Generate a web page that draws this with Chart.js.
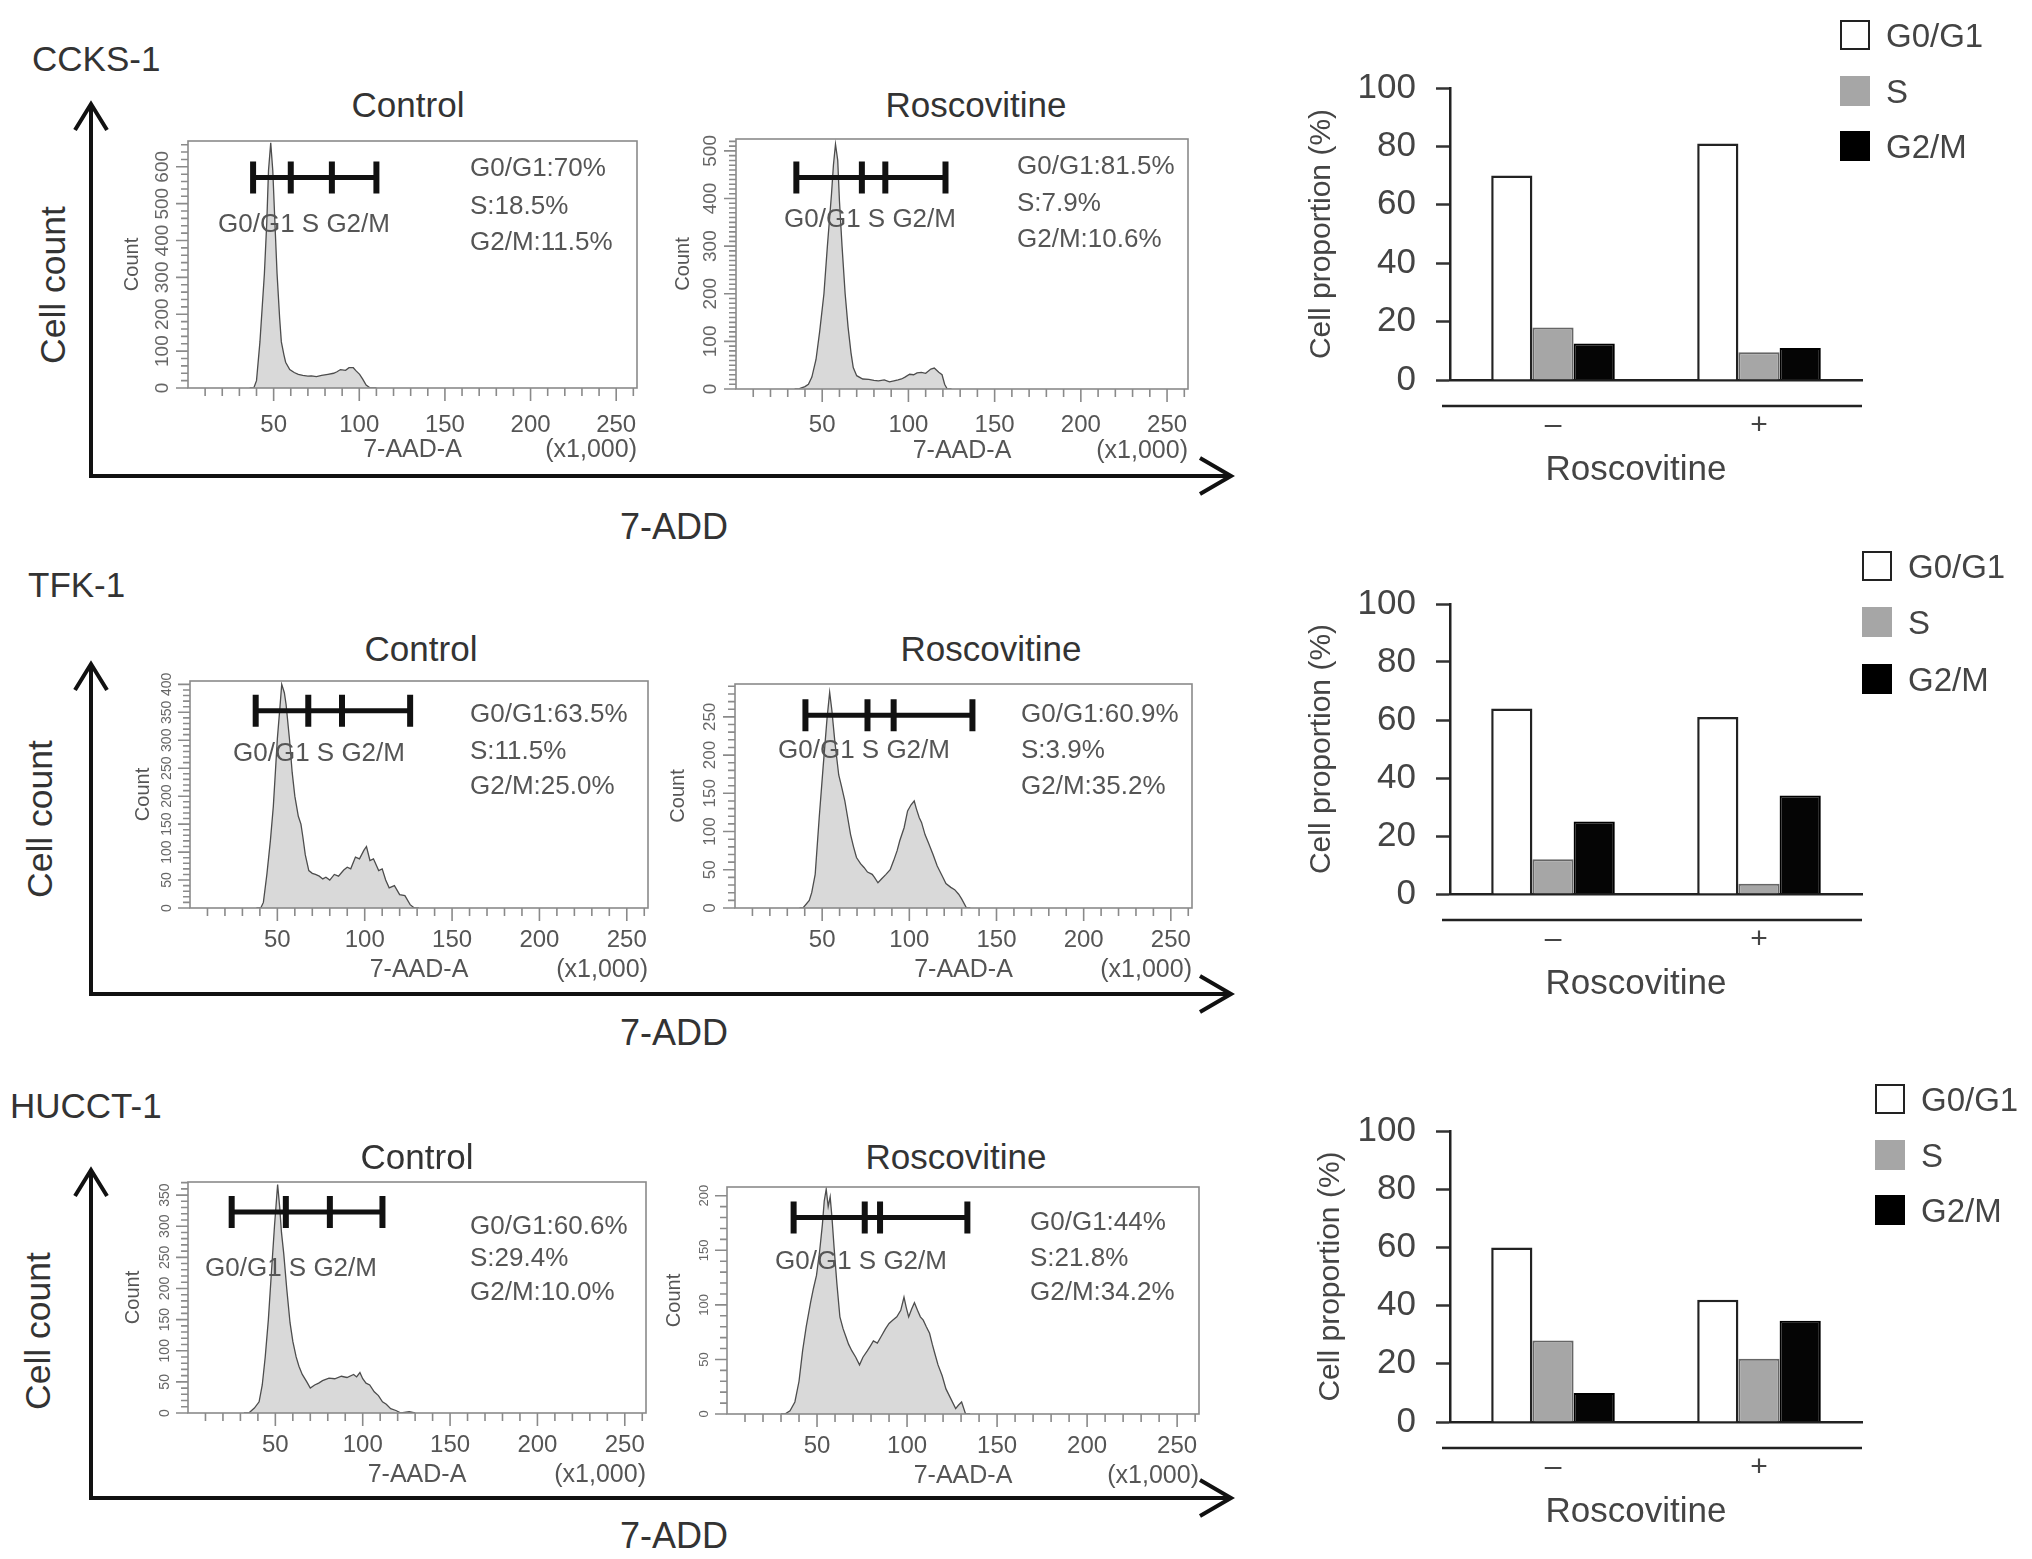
<!DOCTYPE html>
<html><head><meta charset="utf-8">
<script src="https://cdn.jsdelivr.net/npm/chart.js@4.4.0/dist/chart.umd.min.js"></script>
<style>
html,body{margin:0;padding:0;background:#fff;}
body{width:2032px;height:1559px;position:relative;overflow:hidden;font-family:"Liberation Sans",Arial,sans-serif;}
.t{position:absolute;white-space:nowrap;line-height:1;z-index:5;}
.c{transform:translate(-50%,-50%);}
.l{transform:translate(0,-50%);}
.r{transform:translate(-50%,-50%) rotate(-90deg);}
canvas{position:absolute;z-index:2;}
svg{position:absolute;left:0;top:0;z-index:1;}
.lg{position:absolute;width:30px;height:30px;box-sizing:border-box;transform:translate(0,-50%);z-index:5;}
</style></head><body>
<svg id="arrows" width="2032" height="1559"></svg>
<div id="texts"></div>
<script>
// ---------------- DATA ----------------
const cellLines = ['CCKS-1', 'TFK-1', 'HUCCT-1'];
const conditions = ['Control', 'Roscovitine'];
const phases = ['G0/G1', 'S', 'G2/M'];
const treatment = ['\u2013', '+'];

// bar chart values (cell proportion %)
const ccksG0G1 = [70, 81];
const ccksS = [18, 9.5];
const ccksG2M = [12.5, 11];
const tfkG0G1 = [64, 61];
const tfkS = [12, 3.5];
const tfkG2M = [25, 34];
const hucctG0G1 = [60, 42];
const hucctS = [28, 21.7];
const hucctG2M = [10, 34.8];

// stats printed in histograms
const ccksCtrlStats = ['G0/G1:70%', 'S:18.5%', 'G2/M:11.5%'];
const ccksRoscStats = ['G0/G1:81.5%', 'S:7.9%', 'G2/M:10.6%'];
const tfkCtrlStats = ['G0/G1:63.5%', 'S:11.5%', 'G2/M:25.0%'];
const tfkRoscStats = ['G0/G1:60.9%', 'S:3.9%', 'G2/M:35.2%'];
const hucctCtrlStats = ['G0/G1:60.6%', 'S:29.4%', 'G2/M:10.0%'];
const hucctRoscStats = ['G0/G1:44%', 'S:21.8%', 'G2/M:34.2%'];

// DNA content (7-AAD-A, x1,000) and cell counts
const ccksCtrlDNA = [36, 38.4, 40, 42, 44.6, 46, 47, 48.3, 49.5, 51, 52, 53.5, 54.5, 56, 57, 59.4, 62, 64.4, 67, 70, 72, 75, 78, 81.7, 85, 87, 89, 92, 94, 96.5, 98, 100.2, 102, 104, 106.4, 110];
const ccksCtrlCount = [0, 0, 20, 125, 310, 450, 590, 665, 590, 420, 310, 190, 125, 90, 70, 50, 42, 37, 34, 32, 33, 31, 34, 37, 40, 44, 50, 48, 55, 55, 47, 37, 24, 8, 0, 0];
const ccksRoscDNA = [34, 36, 40, 42, 44, 46.4, 48.5, 51, 53, 55.4, 56.5, 57.7, 59, 60, 61.5, 63.3, 65, 66.7, 68, 70, 73.5, 77, 80, 82.6, 86, 89, 91.6, 94, 96, 98, 100.7, 103, 105, 107.5, 110, 113, 115, 117.6, 119.5, 121, 122.5, 125];
const ccksRoscCount = [0, 0, 5, 10, 25, 62, 120, 200, 300, 410, 470, 514, 480, 395, 300, 200, 130, 76, 45, 28, 21, 20, 18, 17, 19, 15, 17, 19, 21, 25, 31, 30, 34, 35, 33, 42, 44, 35, 30, 10, 0, 0];
const tfkCtrlDNA = [38, 40.5, 42, 44, 46, 47.7, 49, 50, 51.5, 52.5, 54, 55, 57, 58.5, 60, 62, 63.5, 64.6, 66, 68, 70, 71.8, 74, 76, 77.8, 80, 82.6, 85, 88, 90, 92, 94.7, 97, 99.5, 101, 103, 105, 108, 110, 112, 114, 117, 120, 123, 126, 128.4, 131];
const tfkCtrlCount = [0, 0, 10, 60, 120, 182, 250, 303, 360, 400, 385, 364, 300, 242, 200, 164, 150, 127, 95, 67, 62, 60, 57, 52, 55, 50, 60, 57, 68, 73, 70, 91, 88, 103, 110, 85, 88, 67, 70, 50, 36, 40, 24, 22, 6, 0, 0];
const tfkRoscDNA = [37, 39, 42.6, 44, 46, 48.3, 50.5, 52.8, 54.3, 55.5, 57.3, 59.5, 61, 63, 64.5, 66.3, 68, 69.7, 72, 74, 76, 78.7, 80, 82, 84, 86.6, 89, 91, 93, 94.5, 97, 99, 101, 102.8, 104, 105.7, 107, 109, 111, 113.6, 116, 119.3, 121, 123.8, 126, 128.3, 130, 132.8, 135];
const tfkRoscCount = [0, 0, 10, 20, 44, 118, 183, 248, 282, 260, 217, 174, 160, 140, 120, 96, 80, 66, 58, 53, 47, 44, 40, 33, 38, 44, 50, 62, 75, 88, 105, 127, 135, 140, 130, 118, 112, 96, 85, 70, 55, 40, 32, 27, 24, 18, 12, 0, 0];
const hucctCtrlDNA = [32, 34.8, 38, 40.7, 42.5, 44.2, 46, 47.8, 49.5, 51.3, 52.5, 53.5, 54.8, 56.5, 58.4, 60, 61.9, 63.5, 65.4, 68, 70, 72.5, 74.8, 77, 80.7, 84, 87.8, 91, 94.8, 96.5, 98.4, 100, 101.9, 104, 106.6, 109, 111.3, 113.5, 116, 119, 121.9, 126.6, 130];
const hucctCtrlCount = [0, 0, 8, 18, 45, 90, 150, 228, 300, 367, 330, 290, 256, 200, 145, 115, 90, 75, 62, 50, 40, 45, 48, 52, 56, 55, 59, 57, 62, 58, 65, 55, 48, 45, 34, 28, 18, 14, 7, 4, 0, 2, 0];
const hucctRoscDNA = [30, 32.2, 35, 37.7, 40, 42, 44, 46.4, 48, 49.7, 51.5, 53, 54, 55.1, 56.2, 57.3, 58.3, 59.5, 61, 62.7, 64.5, 66, 67.5, 69.3, 71.5, 73.6, 75.5, 78, 79.5, 81.3, 83.5, 85.6, 88, 90, 92, 94.3, 96.5, 98.3, 99.5, 100.9, 102.5, 104.1, 105.8, 107.4, 109, 110.7, 112.5, 114, 115.5, 117.2, 119.5, 121.6, 124, 127, 128.5, 130.3, 132.5, 135];
const hucctRoscCount = [0, 0, 3, 11, 30, 58, 80, 102, 115, 127, 150, 174, 195, 206, 190, 199, 180, 152, 120, 89, 78, 71, 64, 58, 52, 45, 52, 58, 62, 67, 65, 71, 78, 83, 86, 89, 95, 107, 98, 89, 96, 102, 95, 89, 86, 80, 74, 64, 55, 45, 35, 23, 15, 5, 8, 11, 0, 0];

// gate boundaries (x1,000) and gate height (count)
const ccksCtrlGate = [38, 60, 84, 110];
const ccksRoscGate = [35, 73, 86.6, 121.5];
const tfkCtrlGate = [37.6, 67.7, 87, 126];
const tfkRoscGate = [40.4, 76, 91, 136.2];
const hucctCtrlGate = [25, 56, 81.2, 111.3];
const hucctRoscGate = [37, 76.5, 85, 133.5];
const gateLevels = [571, 444, 353, 252, 323, 180];
const countMax = [670, 525, 406, 293, 371, 208];
const countMajor = [100, 100, 50, 50, 50, 50];
const countMinor = [20, 10, 10, 10, 10, 10];
const dnaMax = 262.144;

// ---------------- LAYOUT ----------------
Chart.defaults.font.family = '"Liberation Sans", Arial, sans-serif';
Chart.defaults.animation = false;
const TX = document.getElementById('texts');
function txt(s, x, y, size, cls, color) {
  const d = document.createElement('div');
  d.className = 't ' + cls;
  d.textContent = s;
  d.style.left = x + 'px'; d.style.top = y + 'px';
  d.style.fontSize = size + 'px'; d.style.color = color || '#333';
  TX.appendChild(d);
}

// big axes arrows
const rowsGeo = [
  {tip: 104, base: 476, label: [32, 58], cc: [54, 285], adY: 527},
  {tip: 664, base: 994, label: [28, 584], cc: [41, 819], adY: 1033},
  {tip: 1170, base: 1498, label: [10, 1105], cc: [39, 1331], adY: 1536}
];
let svg = '';
rowsGeo.forEach((g, i) => {
  svg += `<path d="M91 ${g.base} L91 ${g.tip} M75 ${g.tip + 26} L91 ${g.tip} L107 ${g.tip + 26}" stroke="#111" stroke-width="4" fill="none"/>`;
  svg += `<path d="M89 ${g.base} L1231 ${g.base} M1200 ${g.base - 18} L1231 ${g.base} L1200 ${g.base + 18}" stroke="#111" stroke-width="4" fill="none"/>`;
  txt(cellLines[i], g.label[0], g.label[1], 35, 'l', '#333');
  txt('Cell count', g.cc[0], g.cc[1], 35.5, 'r', '#333');
  txt('7-ADD', 674, g.adY, 36, 'c', '#333');
});
document.getElementById('arrows').innerHTML = svg;

// histogram panels
const histDecor = {
  id: 'histDecor',
  afterDatasetsDraw(chart, args, o) {
    const {ctx, chartArea: a, scales: {x, y}} = chart;
    ctx.save();
    ctx.strokeStyle = '#8a8a8a'; ctx.lineWidth = 1.6;
    ctx.strokeRect(a.left, a.top, a.right - a.left, a.bottom - a.top);
    ctx.beginPath();
    for (let v = 10; v <= 260; v += 10) {
      const px = x.getPixelForValue(v), L = v % 50 === 0 ? 13 : 8;
      ctx.moveTo(px, a.bottom); ctx.lineTo(px, a.bottom + L);
    }
    for (let v = 0; v <= o.ymax; v += o.minor) {
      const py = y.getPixelForValue(v), L = v % o.major === 0 ? 12 : 7;
      ctx.moveTo(a.left, py); ctx.lineTo(a.left - L, py);
    }
    ctx.stroke();
    ctx.fillStyle = '#666'; ctx.font = o.yFont + 'px "Liberation Sans", Arial';
    ctx.textAlign = 'center'; ctx.textBaseline = 'middle';
    for (let v = 0; v <= o.ymax; v += o.major) {
      const py = y.getPixelForValue(v);
      ctx.save(); ctx.translate(a.left - 15 - o.yFont * 0.55, py); ctx.rotate(-Math.PI / 2);
      ctx.fillText(String(v), 0, 0); ctx.restore();
    }
    // gate marker
    const g = o.gates, gy = y.getPixelForValue(o.gateY);
    ctx.strokeStyle = '#111'; ctx.lineWidth = 5;
    ctx.beginPath();
    ctx.moveTo(x.getPixelForValue(g[0]), gy); ctx.lineTo(x.getPixelForValue(g[g.length - 1]), gy);
    ctx.stroke();
    ctx.lineWidth = 6;
    ctx.beginPath();
    g.forEach(v => { const px = x.getPixelForValue(v); ctx.moveTo(px, gy - 16); ctx.lineTo(px, gy + 16); });
    ctx.stroke();
    // unit
    ctx.fillStyle = '#555'; ctx.font = '25px "Liberation Sans", Arial';
    ctx.textAlign = 'right'; ctx.textBaseline = 'middle';
    ctx.fillText('(x1,000)', a.right, a.bottom + 62);
    ctx.restore();
  }
};

const histPanels = [
  {L: 188, T: 141, R: 644, B: 388, xs: ccksCtrlDNA, ys: ccksCtrlCount, gates: ccksCtrlGate, stats: ccksCtrlStats, yFont: 19, cnt: 56, title: [408, 104], sx: 470, sy: [167, 205, 241], gl: [218, 223], tp: 15},
  {L: 736, T: 139, R: 1194, B: 389, xs: ccksRoscDNA, ys: ccksRoscCount, gates: ccksRoscGate, stats: ccksRoscStats, yFont: 19, cnt: 53, title: [976, 104], sx: 1017, sy: [165, 202, 238], gl: [784, 218], tp: 14},
  {L: 190, T: 681, R: 650, B: 908, xs: tfkCtrlDNA, ys: tfkCtrlCount, gates: tfkCtrlGate, stats: tfkCtrlStats, yFont: 14, cnt: 47, title: [421, 648], sx: 470, sy: [713, 750, 785], gl: [233, 752], tp: 10},
  {L: 735, T: 684, R: 1194, B: 908, xs: tfkRoscDNA, ys: tfkRoscCount, gates: tfkRoscGate, stats: tfkRoscStats, yFont: 17, cnt: 57, title: [991, 648], sx: 1021, sy: [713, 749, 785], gl: [778, 749], tp: 10},
  {L: 188, T: 1182, R: 648, B: 1413, xs: hucctCtrlDNA, ys: hucctCtrlCount, gates: hucctCtrlGate, stats: hucctCtrlStats, yFont: 14, cnt: 55, title: [417, 1156], sx: 470, sy: [1225, 1257, 1291], gl: [205, 1267], tp: 10},
  {L: 727, T: 1187, R: 1201, B: 1414, xs: hucctRoscDNA, ys: hucctRoscCount, gates: hucctRoscGate, stats: hucctRoscStats, yFont: 13, cnt: 53, title: [956, 1156], sx: 1030, sy: [1221, 1257, 1291], gl: [775, 1260], tp: 10}
];

histPanels.forEach((p, i) => {
  const W = 85, H = 80, PT = 8, PR = 8;
  const cv = document.createElement('canvas');
  cv.width = W + (p.R - p.L) + PR; cv.height = PT + (p.B - p.T) + H;
  cv.style.left = (p.L - W) + 'px'; cv.style.top = (p.T - PT) + 'px';
  document.body.appendChild(cv);
  new Chart(cv, {
    type: 'line',
    data: {datasets: [{
      data: p.xs.map((x, k) => ({x: x, y: p.ys[k]})),
      fill: 'origin', backgroundColor: '#d9d9d9', borderColor: '#4d4d4d', borderWidth: 1.3,
      pointRadius: 0, tension: 0
    }]},
    options: {
      responsive: false, devicePixelRatio: 1,
      layout: {padding: {left: 0, top: PT, right: PR, bottom: 0}},
      plugins: {legend: {display: false}, tooltip: {enabled: false},
        histDecor: {ymax: countMax[i], major: countMajor[i], minor: countMinor[i], yFont: p.yFont, gates: p.gates, gateY: gateLevels[i]}},
      scales: {
        x: {type: 'linear', min: 0, max: dnaMax,
          grid: {display: false}, border: {display: false},
          ticks: {stepSize: 10, autoSkip: false, maxRotation: 0, minRotation: 0, padding: p.tp,
            callback: v => (v > 0 && v % 50 === 0) ? String(v) : '', font: {size: 24}, color: '#555'},
          title: {display: true, text: '7-AAD-A', font: {size: 25}, color: '#555', padding: {top: 0, bottom: 3}},
          afterFit: s => { s.height = H; }
        },
        y: {type: 'linear', min: 0, max: countMax[i],
          grid: {display: false}, border: {display: false},
          ticks: {display: false},
          title: {display: true, text: 'Count', font: {size: 20}, color: '#555', padding: {top: W - p.cnt - 12, bottom: 0}},
          afterFit: s => { s.width = W; }
        }
      }
    },
    plugins: [histDecor]
  });
  const cond = conditions[i % 2];
  txt(cond, p.title[0], p.title[1], 35, 'c', '#333');
  p.stats.forEach((s, k) => txt(s, p.sx, p.sy[k], 26, 'l', '#555'));
  txt('G0/G1 S G2/M', p.gl[0], p.gl[1], 26, 'l', '#555');
});

// bar charts
const axisUnderline = {
  id: 'axisUnderline',
  afterDraw(chart) {
    const {ctx, chartArea: a} = chart;
    ctx.save(); ctx.strokeStyle = '#222'; ctx.lineWidth = 2.5;
    ctx.beginPath(); ctx.moveTo(a.left - 8, a.bottom + 26); ctx.lineTo(a.right, a.bottom + 26); ctx.stroke();
    ctx.restore();
  }
};
const barRows = [
  {top: 88, bottom: 380, g0: ccksG0G1, s: ccksS, g2: ccksG2M, yTitle: 1322, legX: 1840, legY: [35, 91, 146]},
  {top: 604, bottom: 894, g0: tfkG0G1, s: tfkS, g2: tfkG2M, yTitle: 1322, legX: 1862, legY: [566, 622, 679]},
  {top: 1131, bottom: 1422, g0: hucctG0G1, s: hucctS, g2: hucctG2M, yTitle: 1331, legX: 1875, legY: [1099, 1155, 1210]}
];
barRows.forEach(b => {
  const CL = 1290, AL = 1450, AR = 1862, PT = 50, XH = 122;
  const cv = document.createElement('canvas');
  cv.width = 2032 - CL; cv.height = PT + (b.bottom - b.top) + XH;
  cv.style.left = CL + 'px'; cv.style.top = (b.top - PT) + 'px';
  document.body.appendChild(cv);
  new Chart(cv, {
    type: 'bar',
    data: {labels: treatment, datasets: [
      {label: phases[0], data: b.g0, backgroundColor: '#ffffff', borderColor: '#222', borderWidth: 2.5},
      {label: phases[1], data: b.s, backgroundColor: '#a6a6a6', borderColor: '#666', borderWidth: 2},
      {label: phases[2], data: b.g2, backgroundColor: '#050505', borderColor: '#000', borderWidth: 2}
    ]},
    options: {
      responsive: false, devicePixelRatio: 1,
      layout: {padding: {left: 0, top: PT, right: 2032 - AR, bottom: 0}},
      datasets: {bar: {categoryPercentage: 0.6, barPercentage: 1.0}},
      plugins: {legend: {display: false}, tooltip: {enabled: false}},
      scales: {
        x: {grid: {display: false}, border: {display: true, color: '#222', width: 2.5},
          ticks: {font: {size: 30}, color: '#444', padding: 20},
          title: {display: false},
          afterFit: s => { s.height = XH; }
        },
        y: {min: 0, max: 100,
          grid: {display: true, drawOnChartArea: false, drawTicks: true, tickLength: 14, tickColor: '#333', tickWidth: 2.5},
          border: {display: true, color: '#222', width: 2.5},
          ticks: {stepSize: 20, font: {size: 35}, color: '#444', padding: 20},
          title: {display: true, text: 'Cell proportion (%)', font: {size: 30}, color: '#444', padding: {top: b.yTitle - CL - 18, bottom: 0}},
          afterFit: s => { s.width = AL - CL; }
        }
      }
    },
    plugins: [axisUnderline]
  });
  txt('Roscovitine', 1636, b.bottom + 87, 35, 'c', '#444');
  const styles = [
    {background: '#fff', border: '2.5px solid #222'},
    {background: '#a6a6a6', border: 'none'},
    {background: '#000', border: 'none'}
  ];
  phases.forEach((ph, k) => {
    const d = document.createElement('div');
    d.className = 'lg';
    d.style.left = b.legX + 'px'; d.style.top = b.legY[k] + 'px';
    Object.assign(d.style, styles[k]);
    document.body.appendChild(d);
    txt(ph, b.legX + 46, b.legY[k], 33, 'l', '#444');
  });
});
</script>
</body></html>
